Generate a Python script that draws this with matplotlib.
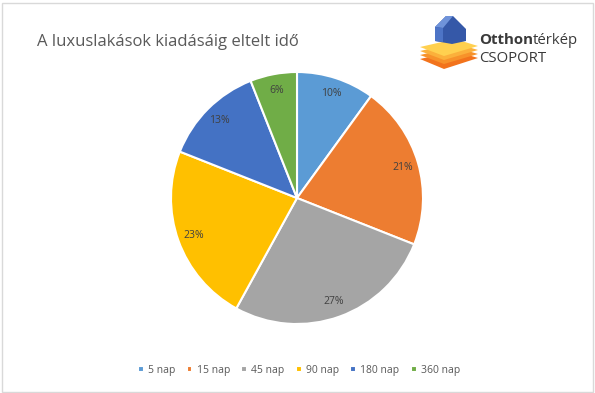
import matplotlib
matplotlib.use("Agg")
import matplotlib.pyplot as plt
from matplotlib.patches import Polygon, Rectangle

categories = ["5 nap", "15 nap", "45 nap", "90 nap", "180 nap", "360 nap"]
values = [10, 21, 27, 23, 13, 6]
colors = ["#5B9BD5", "#ED7D31", "#A5A5A5", "#FFC000", "#4472C4", "#70AD47"]
title = "A luxuslakások kiadásáig eltelt idő"

W, H = 595, 393
fig = plt.figure(figsize=(W / 100, H / 100), dpi=100)
ax = fig.add_axes([0, 0, 1, 1])
ax.set_xlim(0, W)
ax.set_ylim(0, H)
ax.set_aspect("equal")
ax.axis("off")

# border
ax.add_patch(Rectangle((1.5, 1.5), W - 4, H - 4, fill=False, ec="#D9D9D9", lw=1))

wedges, texts, autotexts = ax.pie(
    values, colors=colors, startangle=90, counterclock=False,
    center=(297, H - 198), radius=126,
    autopct=lambda p: f"{p:.0f}%", pctdistance=0.87,
    wedgeprops=dict(edgecolor="white", linewidth=1.5),
    textprops=dict(color="#404040", fontsize=7.5, family="Open Sans"),
)
ax.set_xlim(0, W)
ax.set_ylim(0, H)

ax.text(37, H - 42, title, fontsize=12, color="#595959", family="Open Sans",
        va="center", ha="left")

# legend
leg = ax.legend(wedges, categories, loc="center", bbox_to_anchor=(299 / W, (H - 370) / H),
                ncol=6, frameon=False, handlelength=0.55, handleheight=0.55,
                handletextpad=0.4, columnspacing=1.1,
                prop=dict(family="Open Sans", size=7.5))
for t in leg.get_texts():
    t.set_color("#595959")

# logo
def poly(pts, color, z=5):
    ax.add_patch(Polygon([(x, H - y) for x, y in pts], closed=True, fc=color, ec="none", zorder=z))

# layers (bottom to top)
poly([(420, 59), (455, 51), (478, 58), (444, 69)], "#F2731C")
poly([(420, 55), (455, 47), (478, 54), (444, 64)], "#F7922A")
poly([(420, 51), (455, 43), (478, 50), (444, 60)], "#FBB03B")
poly([(420, 47), (455, 39), (478, 46), (444, 56)], "#FFD04F")
# house
poly([(435, 27), (446, 16), (453, 16), (466, 29), (466, 41), (452, 44), (435, 41)], "#3558A8")
poly([(435, 27), (446, 16), (453, 16), (443, 28)], "#6F93DA")
poly([(435, 27), (443, 28), (443, 42), (435, 41)], "#4D74C6")

fig.canvas.draw()
r = fig.canvas.get_renderer()
t1 = ax.text(479, H - 40, "Otthon", fontsize=10.8, color="#3A3A3A", fontweight="bold",
             family="Open Sans", va="center", ha="left")
bb = t1.get_window_extent(renderer=r)
ax.text(bb.x1, H - 40, "térkép", fontsize=10.8, color="#3A3A3A",
        family="Open Sans", va="center", ha="left")
ax.text(479, H - 58, "CSOPORT", fontsize=10.8, color="#3A3A3A",
        family="Open Sans", va="center", ha="left")

fig.savefig("out.png", dpi=100)
